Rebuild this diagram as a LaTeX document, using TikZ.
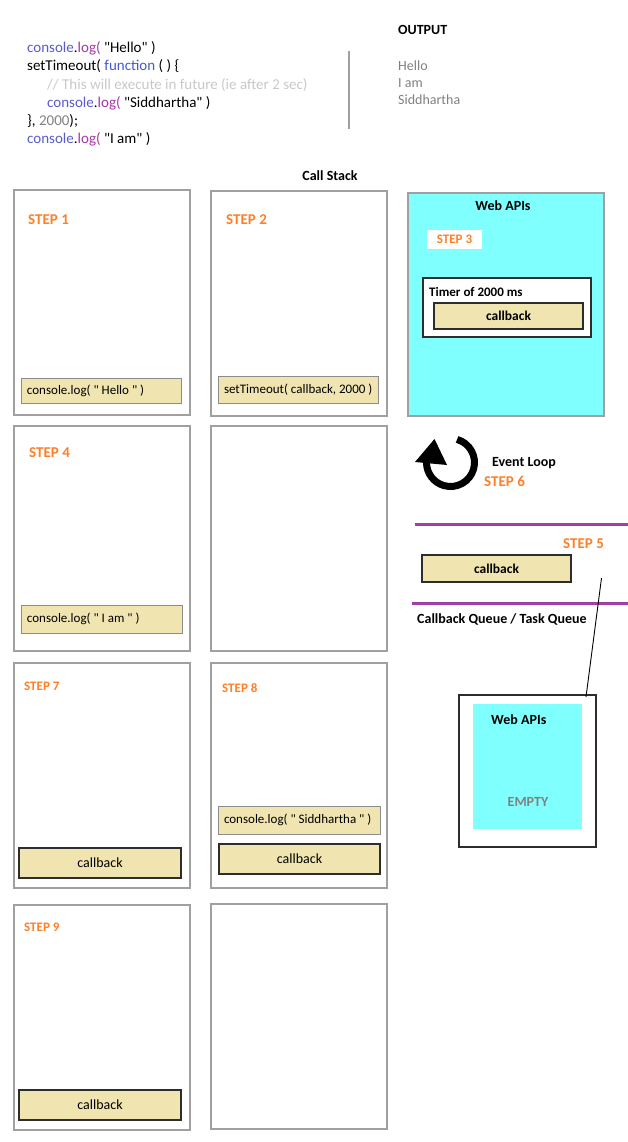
\documentclass[tikz,border=0pt]{standalone}
\usepackage{fontspec}
\setmainfont{Carlito}[Ligatures=TeXOff]
\usetikzlibrary{calc}

\definecolor{stackgray}{RGB}{160,160,160}
\definecolor{tan}{RGB}{240,228,176}
\definecolor{tanedge}{RGB}{140,140,140}
\definecolor{darkedge}{RGB}{45,45,45}
\definecolor{webcyan}{RGB}{128,255,255}
\definecolor{steporange}{RGB}{255,127,39}
\definecolor{queuepurple}{RGB}{158,64,166}
\definecolor{codeblue}{RGB}{90,90,205}
\definecolor{codepurple}{RGB}{165,55,165}
\definecolor{codekw}{RGB}{70,90,205}
\definecolor{codecomment}{RGB}{200,200,200}
\definecolor{codenum}{RGB}{128,128,128}
\definecolor{outgray}{RGB}{128,128,128}

\newcommand\fsz[1]{\fontsize{#1}{#1}\selectfont}
% left-aligned text of a fixed width that never wraps
\newcommand\leftin[2]{\makebox[#1][l]{#2}}

\tikzset{
  codeline/.style={anchor=base west, inner sep=0, font=\fsz{15}},
  outline/.style={anchor=base west, inner sep=0, font=\fsz{14}, text=outgray},
  boldlabel/.style={anchor=base west, inner sep=0, font=\fsz{14}\bfseries},
  steplabel/.style={anchor=base west, inner sep=0, font=\fsz{#1}\bfseries, text=steporange},
  stackbox/.style={draw=stackgray, line width=1.2pt, minimum width=176pt, minimum height=225pt, inner sep=0},
  tanleft/.style 2 args={draw=tanedge, fill=tan, line width=1pt, inner xsep=5pt, inner ysep=0,
    minimum width=#1pt, minimum height=#2pt, font=\fsz{13}},
  tancb/.style 2 args={draw=darkedge, fill=tan, line width=1.2pt, inner sep=0,
    minimum width=#1pt, minimum height=#2pt, font=\fsz{14}},
  tancbbold/.style 2 args={tancb={#1}{#2}, font=\fsz{13.5}\bfseries},
}

\begin{document}
\begin{tikzpicture}[x=1pt, y=-1pt]
\useasboundingbox (0,0) rectangle (628,1142);

% ---- source code ----
\node[codeline] (c1) at (27,52.5) {\textcolor{codeblue}{console}.\textcolor{codepurple}{log(} "Hello" )};
\node[codeline] (c2) at (27,70.8) {setTimeout( \textcolor{codekw}{function} ( ) \{};
\node[codeline, text=codecomment] (c3) at (47,89.1) {// This will execute in future (ie after 2 sec)};
\node[codeline] (c4) at (47,107.4) {\textcolor{codeblue}{console}.\textcolor{codepurple}{log(} "Siddhartha" )};
\node[codeline] (c5) at (27,125.7) {\}, \textcolor{codenum}{2000});};
\node[codeline] (c6) at (27,144) {\textcolor{codeblue}{console}.\textcolor{codepurple}{log(} "I am" )};

\draw[draw=stackgray, line width=1.5pt] (349,51) -- (349,129);

% ---- output ----
\node[boldlabel] (outhead) at (398,35) {OUTPUT};
\node[outline] (o1) at (398,70.5) {Hello};
\node[outline] (o2) at (398,87.5) {I am};
\node[outline] (o3) at (398,104.5) {Siddhartha};

\node[anchor=center, inner sep=0, font=\fsz{14}\bfseries] (cstitle) at (330,176) {Call Stack};

% ---- call stack frames ----
\node[stackbox] (s1) at (102,302.5) {};
\node[stackbox] (s2) at (299,303.5) {};
\node[stackbox] (s4) at (102,538.5) {};
\node[stackbox] (s5) at (299,538.5) {};
\node[stackbox] (s7) at (102,775.5) {};
\node[stackbox] (s8) at (299,775.5) {};
\node[stackbox] (s9) at (102,1017.5) {};
\node[stackbox] (s10) at (299,1016.5) {};

\node[steplabel=15] (l1) at (28,224) {STEP 1};
\node[steplabel=15] (l2) at (226,224) {STEP 2};
\node[steplabel=15] (l4) at (29,457) {STEP 4};
\node[steplabel=13] (l7) at (24,690) {STEP 7};
\node[steplabel=13] (l8) at (222,692) {STEP 8};
\node[steplabel=13] (l9) at (24,931) {STEP 9};

\node[tanleft={160}{25}] (f1) at (101,390.5) {\leftin{148pt}{console.log( " Hello " )}};
\node[tanleft={160}{27}] (f2) at (298,389.5) {\leftin{148pt}{setTimeout( callback, 2000 )}};
\node[tanleft={161}{28}] (f4) at (101.5,619) {\leftin{149pt}{console.log( " I am " )}};
\node[tancb={162}{30}] (f7) at (100,863) {callback};
\node[tanleft={162}{28}] (f8a) at (299,820) {\leftin{150pt}{console.log( " Siddhartha " )}};
\node[tancb={161}{30}] (f8b) at (299.5,859) {callback};
\node[tancb={162}{30}] (f9) at (100,1105) {callback};

% ---- Web APIs with running timer ----
\node[draw=stackgray, fill=webcyan, line width=1.2pt, minimum width=196pt, minimum height=223pt, inner sep=0] (web) at (506,304.5) {};
\node[anchor=center, inner sep=0, font=\fsz{14}\bfseries] (webtitle) at (503,206) {Web APIs};
\node[fill=white, minimum width=55pt, minimum height=19pt, inner sep=0, font=\fsz{13}\bfseries, text=steporange] (l3) at (454.5,239.5) {STEP 3};
\node[draw=darkedge, fill=white, line width=1.2pt, minimum width=168pt, minimum height=59pt, inner sep=0] (timer) at (507,307.5) {};
\node[anchor=base west, inner sep=0, font=\fsz{13}\bfseries] (timertext) at (429,296) {Timer of 2000 ms};
\node[tancbbold={149}{26}] (timercb) at (508.5,316) {callback};

% ---- event loop ----
\draw[line width=7pt] (450.5,462.5) ++(-74:24) arc[start angle=-74, end angle=180, radius=24];
\fill (415,462) -- (434.5,439) -- (447,465) -- cycle;
\node[boldlabel] (evl) at (492,466) {Event Loop};
\node[steplabel=15] (l6) at (484,486.5) {STEP 6};

% ---- callback queue ----
\draw[queuepurple, line width=3pt] (415,524) -- (628,524);
\draw[queuepurple, line width=3pt] (412,603) -- (628,603);
\node[steplabel=15] (l5) at (563,548) {STEP 5};
\node[tancbbold={149}{27}] (qcb) at (496.5,568.5) {callback};
\node[boldlabel] (qtitle) at (417,623) {Callback Queue / Task Queue};

% ---- Web APIs, now empty ----
\node[draw=darkedge, fill=white, line width=1.2pt, minimum width=137pt, minimum height=152pt, inner sep=0] (web2) at (527.5,771) {};
\node[fill=webcyan, minimum width=109pt, minimum height=125pt, inner sep=0] (web2in) at (527.5,766.5) {};
\node[anchor=base west, inner sep=0, font=\fsz{14}\bfseries] (web2title) at (491,724) {Web APIs};
\node[anchor=center, inner sep=0, font=\fsz{14}\bfseries, text=outgray] (empty) at (528,802) {EMPTY};

\coordinate (qa) at (601.5,578);
\coordinate (qb) at (586,697);
\draw[line width=0.9pt] (qa) -- (qb);
\end{tikzpicture}
\end{document}
